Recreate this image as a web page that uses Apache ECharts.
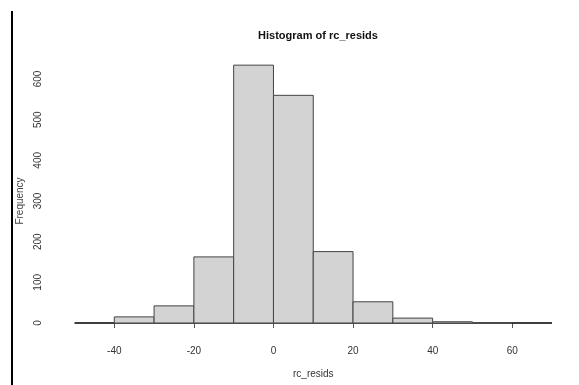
<!DOCTYPE html>
<html>
<head>
<meta charset="utf-8">
<script src="https://cdn.jsdelivr.net/npm/echarts@6/dist/echarts.min.js"></script>
<style>
  html, body { margin: 0; padding: 0; background: #fff; }
  #chart { width: 579px; height: 385px; }
</style>
</head>
<body>
<div id="chart"></div>
<script>
// histogram bins (break edges) and counts
var breaks = [-50, -40, -30, -20, -10, 0, 10, 20, 30, 40, 50, 60, 70];
var counts = [0, 15, 42, 162, 632, 558, 175, 52, 12, 3, 1, 0];
var xTicks = [-40, -20, 0, 20, 40, 60];
var yTicks = [0, 100, 200, 300, 400, 500, 600];

var binData = [];
for (var i = 0; i < counts.length; i++) {
  binData.push([breaks[i], breaks[i + 1], counts[i]]);
}

var chart = echarts.init(document.getElementById('chart'));
var font = 'Liberation Sans, Arial, sans-serif';

var option = {
  animation: false,
  title: {
    text: 'Histogram of rc_resids',
    left: 313,
    top: 25,
    textAlign: 'center',
    textStyle: { fontFamily: font, fontSize: 11, fontWeight: 'bold', color: '#111' }
  },
  grid: [
    // plotting region (hidden scales)
    { left: 74.5, right: 27, top: 57.8, bottom: 62, containLabel: false },
    // R-style axes, offset from the plot
    { left: 114.3, right: 66.7, top: 79, bottom: 62, containLabel: false }
  ],
  xAxis: [
    {
      gridIndex: 0, type: 'value', min: breaks[0], max: breaks[breaks.length - 1],
      show: false
    },
    {
      gridIndex: 1, type: 'value', min: xTicks[0], max: xTicks[xTicks.length - 1],
      interval: 20, position: 'bottom', offset: 11,
      name: 'rc_resids', nameLocation: 'middle', nameGap: 35,
      nameTextStyle: { fontFamily: font, fontSize: 10, color: '#333' },
      axisLine: { lineStyle: { color: '#555', width: 1 } },
      axisTick: { length: 5, lineStyle: { color: '#555' } },
      axisLabel: { fontFamily: font, fontSize: 10, color: '#333', margin: 12 },
      splitLine: { show: false }
    }
  ],
  yAxis: [
    {
      gridIndex: 0, type: 'value', min: 0, max: 650, show: false
    },
    {
      gridIndex: 1, type: 'value', min: yTicks[0], max: yTicks[yTicks.length - 1],
      interval: 100, position: 'left', offset: 59.3,
      name: 'Frequency', nameLocation: 'middle', nameGap: 30, nameRotate: 90,
      nameTextStyle: { fontFamily: font, fontSize: 10, color: '#444' },
      axisLine: { show: true, lineStyle: { color: '#555', width: 1 } },
      axisTick: { show: true, length: 5, lineStyle: { color: '#555' } },
      axisLabel: { fontFamily: font, fontSize: 10, color: '#333', rotate: 90, margin: 12 },
      splitLine: { show: false }
    }
  ],
  graphic: [
    {
      type: 'line',
      shape: { x1: 12, y1: 11, x2: 12, y2: 385 },
      style: { stroke: '#000', lineWidth: 2 }
    }
  ],
  series: [
    {
      type: 'custom',
      xAxisIndex: 0,
      yAxisIndex: 0,
      data: binData,
      encode: { x: [0, 1], y: 2 },
      renderItem: function (params, api) {
        var p0 = api.coord([api.value(0), api.value(2)]);
        var p1 = api.coord([api.value(1), 0]);
        var zero = api.value(2) === 0;
        return {
          type: 'rect',
          shape: { x: p0[0], y: p0[1], width: p1[0] - p0[0], height: p1[1] - p0[1] },
          style: {
            fill: '#d3d3d3',
            stroke: zero ? '#000' : '#444',
            lineWidth: zero ? 1.5 : 1
          }
        };
      }
    }
  ]
};

chart.setOption(option);
</script>
</body>
</html>
